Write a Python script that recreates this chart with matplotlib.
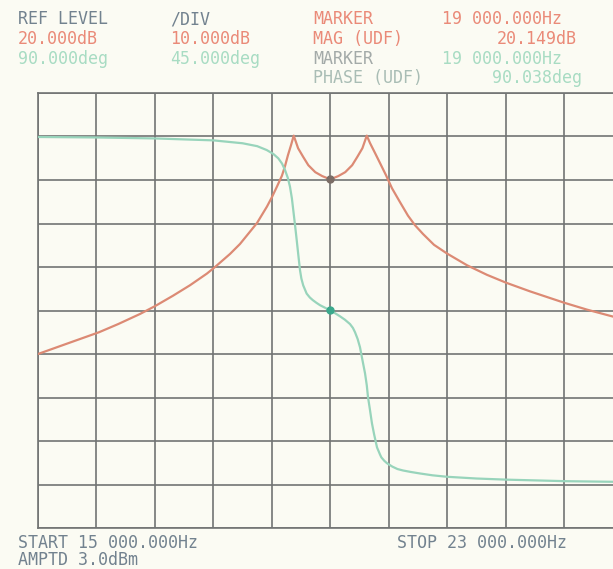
import matplotlib
matplotlib.use("Agg")
import matplotlib.pyplot as plt
import numpy as np

# magnitude trace (Hz, dB)
mag_freq = [15000, 15400, 15835, 16100, 16396, 16601, 16848, 17080, 17313, 17423,
            17628, 17765, 17997, 18134, 18203, 18271, 18339, 18381, 18421, 18463,
            18500, 18560, 18630, 18700, 18795, 18890, 19000, 19110, 19205, 19300,
            19370, 19440, 19500, 19544, 19613, 19681, 19763, 19845, 19955, 20064,
            20160, 20269, 20420, 20598, 20872, 21145, 21405, 21734, 22199, 22514,
            22870, 23000]
mag_db = [-20.0, -17.6, -15.0, -13.1, -10.8, -9.0, -6.6, -4.2, -1.5, 0.0,
          3.0, 5.3, 10.1, 13.9, 16.1, 18.5, 21.0, 23.2, 25.7, 28.0,
          30.2, 27.3, 25.3, 23.4, 21.8, 20.9, 20.15, 20.9, 21.8, 23.4,
          25.3, 27.3, 30.2, 28.5, 26.2, 23.9, 21.1, 18.1, 14.9, 11.8,
          9.6, 7.6, 5.1, 3.1, 0.4, -1.8, -3.6, -5.6, -8.2, -9.8,
          -11.4, -12.0]

# phase trace (Hz, deg)
ph_freq = [15000, 15800, 16600, 17200, 17400, 17800, 18000, 18130, 18220, 18289,
           18340, 18381, 18420, 18449, 18475, 18494, 18520, 18541, 18565, 18586,
           18605, 18630, 18677, 18720, 18760, 18810, 18860, 18930, 19000, 19070,
           19133, 19200, 19270, 19310, 19339, 19375, 19407, 19440, 19476, 19500,
           19517, 19540, 19571, 19600, 19640, 19681, 19700, 19740, 19777, 19850,
           19920, 19996, 20100, 20229, 20400, 20597, 21000, 21419, 22240, 22870,
           23000]
ph_deg = [269.5, 269.0, 268.0, 266.5, 266.0, 263.0, 260.0, 256.0, 252.0, 247.4,
          242.0, 235.3, 227.0, 218.0, 206.0, 193.8, 177.0, 162.8, 146.0, 131.7,
          123.0, 116.0, 107.5, 103.5, 100.8, 98.0, 95.5, 92.8, 90.0, 87.0,
          84.0, 80.5, 76.0, 72.0, 67.5, 60.5, 52.0, 39.0, 25.0, 12.6,
          0.2, -11.0, -26.8, -38.0, -51.6, -59.0, -62.0, -65.5, -68.0, -71.5,
          -74.0, -75.5, -77.0, -78.6, -80.5, -82.0, -83.8, -85.0, -86.6, -87.2,
          -87.3]

marker_f = 19000
marker_mag = 20.149
marker_ph = 90.038

start_f, stop_f = 15000, 23000
ref_db, db_div = 20, 10
ref_deg, deg_div = 90, 45

bg = "#fbfbf3"
red = "#dc8a74"
green = "#98d4bb"
txt_blue = "#72828f"
txt_red = "#ea8a78"
txt_green = "#a8dcc3"

plt.rcParams['font.family'] = ['DejaVu Sans Mono']

fig = plt.figure(figsize=(6.13, 5.69), dpi=100, facecolor=bg)
ax = fig.add_axes([38 / 613, 41 / 569, 584.5 / 613, 435 / 569])
ax.set_facecolor(bg)
ax.set_xlim(start_f, stop_f)
ax.set_ylim(ref_db - 8 * db_div, ref_db + 2 * db_div)
ax.set_xticks(np.arange(start_f, stop_f + 1, (stop_f - start_f) / 10))
ax.set_yticks(np.arange(ref_db - 8 * db_div, ref_db + 2 * db_div + 1, db_div))
ax.tick_params(length=0, labelbottom=False, labelleft=False)
ax.grid(True, color="#727473", lw=1.2)
for s in ax.spines.values():
    s.set_color("#727473")
    s.set_linewidth(1.2)

ax2 = ax.twinx()
ax2.set_ylim(ref_deg - 5 * deg_div, ref_deg + 5 * deg_div)
ax2.axis("off")

ax.plot(mag_freq, mag_db, color=red, lw=1.6, zorder=3)
ax2.plot(ph_freq, ph_deg, color=green, lw=1.6, zorder=3)
ax.plot([marker_f], [marker_mag], "o", color="#7b6d66", ms=5, zorder=4)
ax2.plot([marker_f], [marker_ph], "o", color="#3aa98c", ms=5, zorder=4)

# header / footer annotations (pixel positions from the top-left)
fs = 12
def put(x, y, s, c, ha="left"):
    fig.text(x / 613, 1 - y / 569, s, color=c, fontsize=fs, ha=ha, va="center")

put(18, 19, "REF LEVEL", txt_blue)
put(18, 39, "20.000dB", txt_red)
put(18, 59, "90.000deg", txt_green)
put(170, 19, "/DIV", txt_blue)
put(170, 39, "10.000dB", txt_red)
put(170, 59, "45.000deg", txt_green)

put(313, 19, "MARKER", txt_red)
put(562, 19, "19 000.000Hz", txt_red, ha="right")
put(313, 39, "MAG (UDF)", txt_red)
put(577, 39, "20.149dB", txt_red, ha="right")
put(313, 59, "MARKER", "#a3aaa8")
put(562, 59, "19 000.000Hz", txt_green, ha="right")
put(313, 78, "PHASE (UDF)", "#a9bdb5")
put(582, 78, "90.038deg", txt_green, ha="right")

put(18, 543, "START 15 000.000Hz", txt_blue)
put(18, 560, "AMPTD 3.0dBm", txt_blue)
put(567, 543, "STOP 23 000.000Hz", txt_blue, ha="right")

fig.savefig("out.png", dpi=100, facecolor=bg)
